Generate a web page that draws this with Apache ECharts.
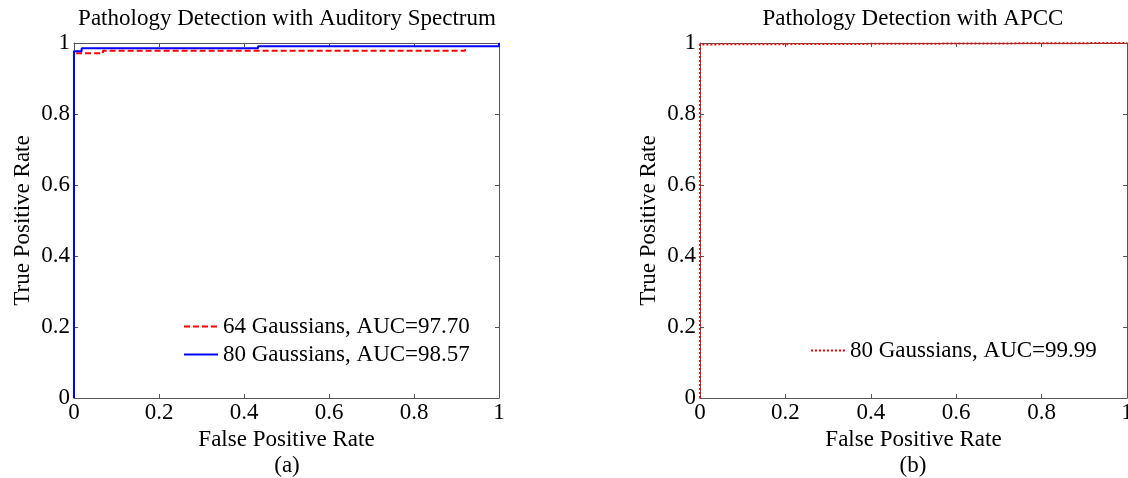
<!DOCTYPE html>
<html><head><meta charset="utf-8">
<script src="https://cdn.jsdelivr.net/npm/echarts@6/dist/echarts.min.js"></script>
<style>html,body{margin:0;padding:0;background:#fff}#c{width:1128px;height:478px}</style>
</head><body><div id="c"></div>
<script>
const titles = ['Pathology Detection with Auditory Spectrum', 'Pathology Detection with APCC'];
const captions = ['(a)', '(b)'];
const xName = 'False Positive Rate';
const yName = 'True Positive Rate';
const names = ['64 Gaussians, AUC=97.70', '80 Gaussians, AUC=98.57', '80 Gaussians, AUC=99.99'];
// ROC points [FPR, TPR]
const roc64 = [[0.005,0.971],[0.068,0.971],[0.068,0.978],[0.92,0.978],[0.92,0.99]];
const roc80 = [[0,0],[0,0.977],[0.018,0.977],[0.018,0.985],[0.433,0.985],[0.433,0.991],[1,0.991],[1,1]];
const rocApcc = [[0,0],[0,0.996],[0.01,0.996],[0.01,1],[1,1]];

const font = 'Liberation Serif';
const FS = 23;
const grids = [
  {left:74, top:43, width:425, height:355, outerBoundsMode:'none', containLabel:false},
  {left:700, top:43, width:427, height:355, outerBoundsMode:'none', containLabel:false}
];
const axisLine = {show:true, onZero:false, lineStyle:{color:'#555', width:1}};
const tick = {show:true, inside:true, length:4, lineStyle:{color:'#555'}};
const fmt = v => String(+v.toFixed(1));
const xAxes = [], yAxes = [];
grids.forEach((g,i)=>{
  xAxes.push({gridIndex:i, type:'value', min:0, max:1, interval:0.2, position:'bottom',
    name:xName, nameLocation:'middle', nameGap:29, nameTextStyle:{fontFamily:font, fontSize:FS, color:'#000'},
    axisLine, axisTick:tick, splitLine:{show:false},
    axisLabel:{fontFamily:font, fontSize:FS, color:'#000', margin:3, formatter:fmt}});
  xAxes.push({gridIndex:i, type:'value', min:0, max:1, interval:0.2, position:'top',
    axisLine, axisTick:tick, splitLine:{show:false}, axisLabel:{show:false}});
  yAxes.push({gridIndex:i, type:'value', min:0, max:1, interval:0.2, position:'left',
    name:yName, nameLocation:'middle', nameGap:40, nameTextStyle:{fontFamily:font, fontSize:FS, color:'#000'},
    axisLine, axisTick:tick, splitLine:{show:false},
    axisLabel:{fontFamily:font, fontSize:FS, color:'#000', margin:4, formatter:fmt}});
  yAxes.push({gridIndex:i, type:'value', min:0, max:1, interval:0.2, position:'right',
    axisLine, axisTick:tick, splitLine:{show:false}, axisLabel:{show:false}});
});
const tStyle = {fontFamily:font, fontSize:FS, fontWeight:'normal', color:'#000'};
const option = {
  animation:false,
  backgroundColor:'#fff',
  title:[
    {text:titles[0], left:287, top:7, padding:0, textAlign:'center', textStyle:tStyle},
    {text:titles[1], left:913, top:7, padding:0, textAlign:'center', textStyle:tStyle},
    {text:captions[0], left:287, top:454, padding:0, textAlign:'center', textStyle:tStyle},
    {text:captions[1], left:913, top:454, padding:0, textAlign:'center', textStyle:tStyle}
  ],
  grid:grids,
  xAxis:xAxes,
  yAxis:yAxes,
  legend:[
    {data:[names[0], names[1]], orient:'vertical', left:183, top:315, padding:0, itemWidth:34, itemHeight:10, itemGap:5,
     itemStyle:{opacity:0}, textStyle:{fontFamily:font, fontSize:FS, color:'#000'}},
    {data:[names[2]], orient:'vertical', left:810, top:339, padding:0, itemWidth:34, itemHeight:10,
     itemStyle:{opacity:0}, textStyle:{fontFamily:font, fontSize:FS, color:'#000'}}
  ],
  series:[
    {name:names[0], type:'line', xAxisIndex:0, yAxisIndex:0, data:roc64, symbol:'none', z:2,
     lineStyle:{color:'#ff0000', width:2, type:[6,3]}, itemStyle:{color:'#ff0000'}},
    {name:names[1], type:'line', xAxisIndex:0, yAxisIndex:0, data:roc80, symbol:'none', z:3,
     lineStyle:{color:'#0000ff', width:2}, itemStyle:{color:'#0000ff'}},
    {name:names[2], type:'line', xAxisIndex:2, yAxisIndex:2, data:rocApcc, symbol:'none',
     lineStyle:{color:'#ff0000', width:2, type:[2,2]}, itemStyle:{color:'#ff0000'}}
  ]
};
echarts.init(document.getElementById('c')).setOption(option);
</script></body></html>
